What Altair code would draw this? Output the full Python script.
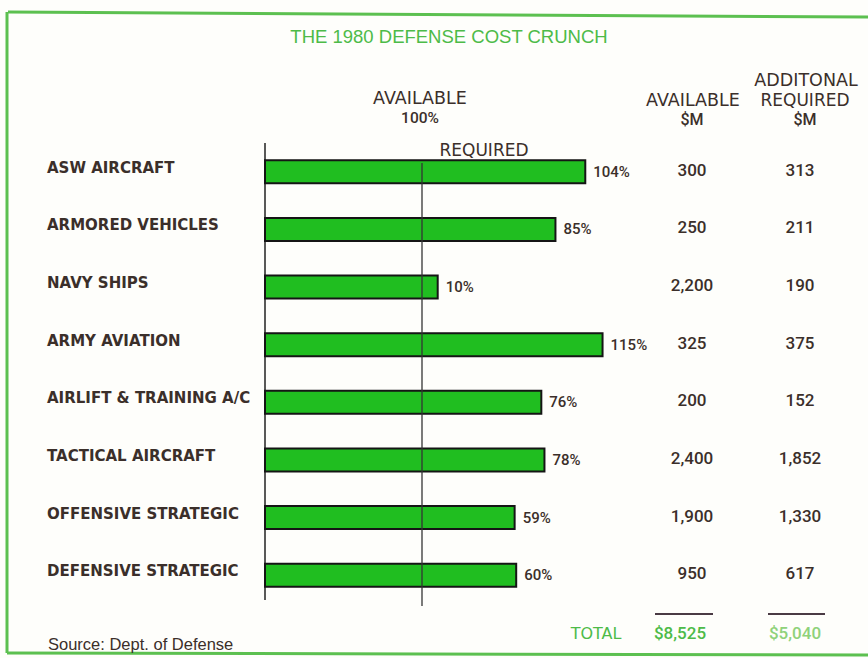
import altair as alt
import pandas as pd

categories = ["ASW AIRCRAFT", "ARMORED VEHICLES", "NAVY SHIPS", "ARMY AVIATION",
              "AIRLIFT & TRAINING A/C", "TACTICAL AIRCRAFT", "OFFENSIVE STRATEGIC",
              "DEFENSIVE STRATEGIC"]
required_pct = [104, 85, 10, 115, 76, 78, 59, 60]
available_m = [300, 250, 2200, 325, 200, 2400, 1900, 950]
additional_m = [313, 211, 190, 375, 152, 1852, 1330, 617]

df = pd.DataFrame({
    "cat": categories,
    "pct": required_pct,
    "avail": available_m,
    "addl": additional_m,
})
df["total"] = 100 + df["pct"]
df["zero"] = 0
df["pct_lbl"] = df["pct"].astype(str) + "%"
df["avail_lbl"] = df["avail"].map(lambda v: f"{v:,}")
df["addl_lbl"] = df["addl"].map(lambda v: f"{v:,}")

total_avail = f"${sum(available_m):,}"
total_addl = f"${sum(additional_m):,}"

NUMF = "Roboto"
LBLF = "DejaVu Sans"
DARK = "#3b2f2a"
GREEN_T = "#4dbb48"

xs = alt.Scale(domain=[0, 250], range=[265, 657.5])
ys = alt.Scale(domain=categories, range=[143, 604], paddingInner=0, paddingOuter=0)

base = alt.Chart(df)

def txt(s, x, y, size=16, color=DARK, align="center", font=NUMF, weight=500, opacity=1):
    return alt.Chart(pd.DataFrame({"t": [s]})).mark_text(
        align=align, baseline="middle", fontSize=size, font=font,
        fontWeight=weight, color=color, opacity=opacity
    ).encode(x=alt.value(x), y=alt.value(y), text="t:N")

def hrule(x1, x2, y1, y2, color, w):
    return alt.Chart(pd.DataFrame({"a": [0]})).mark_rule(color=color, strokeWidth=w).encode(
        x=alt.value(x1), x2=alt.value(x2), y=alt.value(y1), y2=alt.value(y2))

frame = (hrule(8, 868, 12, 17, "#5cc050", 3)
         + hrule(7, 7, 12, 653, "#5cc050", 3)
         + hrule(7, 868, 653, 655, "#5cc050", 3))

title = txt("THE 1980 DEFENSE COST CRUNCH", 449, 37, size=18.5, color=GREEN_T,
            font="Liberation Sans", weight="normal")

headers = (txt("AVAILABLE", 420, 99, size=17.5, font=LBLF, weight="normal")
           + txt("100%", 420, 118, size=15.5)
           + txt("REQUIRED", 484, 151, size=17, font=LBLF, weight="normal")
           + txt("AVAILABLE", 693, 101, size=17.5, font=LBLF, weight="normal")
           + txt("$M", 692, 120, size=16)
           + txt("ADDITONAL", 806, 81, size=17.5, font=LBLF, weight="normal")
           + txt("REQUIRED", 805, 101, size=17, font=LBLF, weight="normal")
           + txt("$M", 805, 120, size=16))

left_line = alt.Chart(pd.DataFrame({"v": [0]})).mark_rule(color="#222", strokeWidth=1.5).encode(
    x=alt.X("v:Q", scale=xs, axis=None), y=alt.value(143), y2=alt.value(600))
mid_line = alt.Chart(pd.DataFrame({"v": [100]})).mark_rule(color="#333", strokeWidth=1.3).encode(
    x=alt.X("v:Q", scale=xs, axis=None), y=alt.value(163), y2=alt.value(606))

bars = base.mark_bar(color="#20be20", stroke="#151515", strokeWidth=2, size=23).encode(
    x=alt.X("zero:Q", scale=xs, axis=None),
    x2="total:Q",
    y=alt.Y("cat:N", scale=ys, axis=None, sort=categories),
)

pct_text = base.mark_text(align="left", dx=8, fontSize=15, font=NUMF, fontWeight=500,
                          color=DARK).encode(
    x=alt.X("total:Q", scale=xs, axis=None),
    y=alt.Y("cat:N", scale=ys, axis=None, sort=categories),
    text="pct_lbl:N")

cat_text = base.mark_text(align="left", dy=-4, fontSize=15, font=LBLF,
                          fontWeight="bold", color=DARK).encode(
    x=alt.value(47),
    y=alt.Y("cat:N", scale=ys, axis=None, sort=categories),
    text="cat:N")

avail_text = base.mark_text(align="center", dy=-1, fontSize=17, font=NUMF, fontWeight=500,
                            color=DARK).encode(
    x=alt.value(692),
    y=alt.Y("cat:N", scale=ys, axis=None, sort=categories),
    text="avail_lbl:N")

addl_text = base.mark_text(align="center", dy=-1, fontSize=17, font=NUMF, fontWeight=500,
                           color=DARK).encode(
    x=alt.value(800),
    y=alt.Y("cat:N", scale=ys, axis=None, sort=categories),
    text="addl_lbl:N")

totals = (hrule(655, 713, 614, 614, "#4a3a44", 2)
          + hrule(768, 825, 614, 614, "#4a3a44", 2)
          + txt("TOTAL", 596, 634, size=16, color=GREEN_T, font=LBLF, weight="normal")
          + txt(total_avail, 680, 634, size=17, color=GREEN_T)
          + txt(total_addl, 795, 634, size=17, color="#8fd27a"))

source = txt("Source:  Dept. of Defense", 48, 645, size=16.5, align="left",
             font="Liberation Sans", weight="normal")

chart = alt.layer(
    frame, title, headers, left_line, bars, mid_line, pct_text, cat_text,
    avail_text, addl_text, totals, source
).properties(
    width=868, height=658, autosize=alt.AutoSizeParams(type="none"), padding=0,
    background="#fefefb"
).configure_view(stroke=None)

chart.save("out.html", embed_options={"renderer": "svg", "actions": False})
